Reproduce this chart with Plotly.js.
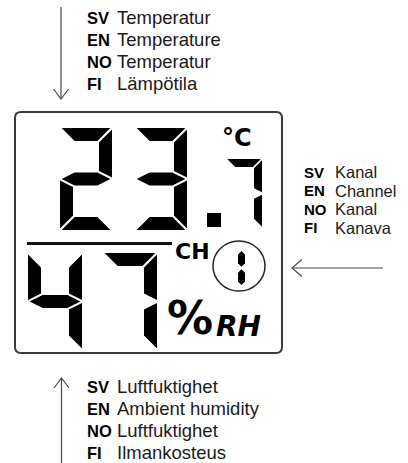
<!DOCTYPE html>
<html><head><meta charset="utf-8">
<script src="https://cdn.plot.ly/plotly-3.0.1.min.js"></script>
<style>html,body{margin:0;padding:0;background:#fff;overflow:hidden}</style>
</head><body><div id="chart" style="width:408px;height:463px"></div>
<script>
// ---- data ----
const temperatureDigits = ['2', '3'];
const temperatureDecimal = ['7'];
const humidityDigits = ['4', '7'];
const channelDigit = ['1'];
const temperatureUnit = '°C';
const channelLabel = 'CH';
const humidityUnit = '%';
const humiditySuffix = 'RH';
const langCodes = ['SV', 'EN', 'NO', 'FI'];
const temperatureNames = ['Temperatur', 'Temperature', 'Temperatur', 'Lämpötila'];
const channelNames = ['Kanal', 'Channel', 'Kanal', 'Kanava'];
const humidityNames = ['Luftfuktighet', 'Ambient humidity', 'Luftfuktighet', 'Ilmankosteus'];

// ---- seven-segment helper ----
const SEGMENTS = {'0':'abcdef','1':'bc','2':'abdeg','3':'abcdg','4':'bcfg','5':'acdfg','6':'acdefg','7':'abc','8':'abcdefg','9':'abcdfg'};
function segPolys(ch, x0, y0, w, h, t, g, hex) {
  const x1 = x0 + w, y1 = y0 + h, ym = y0 + h / 2, ht = t / 2;
  const vHex = (xr, ya, yb) => [[xr-ht,ya],[xr,ya+ht],[xr,yb-ht],[xr-ht,yb],[xr-t,yb-ht],[xr-t,ya+ht]];
  const P = {
    a: [[x0+g,y0],[x1-g,y0],[x1-t-g,y0+t],[x0+t+g,y0+t]],
    d: [[x0+t+g,y1-t],[x1-t-g,y1-t],[x1-g,y1],[x0+g,y1]],
    g: [[x0+g,ym],[x0+t+g,ym-ht],[x1-t-g,ym-ht],[x1-g,ym],[x1-t-g,ym+ht],[x0+t+g,ym+ht]],
    b: hex ? vHex(x1, y0, ym - g) : [[x1,y0+g],[x1,ym-g],[x1-t,ym-ht-g],[x1-t,y0+t+g]],
    c: hex ? vHex(x1, ym + g, y1) : [[x1,ym+g],[x1,y1-g],[x1-t,y1-t-g],[x1-t,ym+ht+g]],
    f: [[x0,y0+g],[x0+t,y0+t+g],[x0+t,ym-ht-g],[x0,ym-g]],
    e: [[x0,ym+g],[x0+t,ym+ht+g],[x0+t,y1-t-g],[x0,y1-g]]
  };
  return SEGMENTS[ch].split('').map(s => P[s]);
}
function polyPath(pts) { return 'M' + pts.map(p => p[0].toFixed(2) + ',' + p[1].toFixed(2)).join('L') + 'Z'; }

const shapes = [];
function addDigit(ch, x0, y0, w, h, t, g, hex) {
  segPolys(ch, x0, y0, w, h, t, g, hex).forEach(p => shapes.push({
    type: 'path', xref: 'x', yref: 'y', path: polyPath(p),
    fillcolor: '#000', line: {width: 0}
  }));
}
// temperature
temperatureDigits.forEach((d, i) => addDigit(d, 60 + i * 75, 128, 52, 102, 13, 1.6));
shapes.push({type:'rect', xref:'x', yref:'y', x0:207, x1:221, y0:213, y1:227, fillcolor:'#000', line:{width:0}});
temperatureDecimal.forEach((d, i) => addDigit(d, 226 + i * 40, 159, 36, 69, 8, 1.2));
// humidity
humidityDigits.forEach((d, i) => addDigit(d, 28 + i * 75, 253, 54, 97, 13, 1.6));
// channel
channelDigit.forEach((d, i) => addDigit(d, 231 + i * 15, 251, 14, 34, 7, 1.2, true));

// display frame
const bx0 = 15, bx1 = 282, by0 = 112, by1 = 353, r = 6;
shapes.push({type:'path', xref:'x', yref:'y', line:{color:'#3a3a3a', width:2},
  path: `M${bx0+r},${by0}L${bx1-r},${by0}Q${bx1},${by0} ${bx1},${by0+r}L${bx1},${by1-r}Q${bx1},${by1} ${bx1-r},${by1}L${bx0+r},${by1}Q${bx0},${by1} ${bx0},${by1-r}L${bx0},${by0+r}Q${bx0},${by0} ${bx0+r},${by0}Z`});
// divider line
shapes.push({type:'line', xref:'x', yref:'y', x0:27, x1:172, y0:243.5, y1:243.5, line:{color:'#111', width:3}});
// channel circle
shapes.push({type:'circle', xref:'x', yref:'y', x0:213, x1:265, y0:241, y1:291, line:{color:'#222', width:1.5}});

// arrows
const arrowLine = {color:'#4a4a4a', width:1.2};
shapes.push({type:'line', xref:'x', yref:'y', x0:61, x1:61, y0:7, y1:98.5, line:arrowLine});
shapes.push({type:'path', xref:'x', yref:'y', path:'M53.5,89L61,99L68.5,89', line:arrowLine});
shapes.push({type:'line', xref:'x', yref:'y', x0:61.5, x1:61.5, y0:378, y1:463, line:arrowLine});
shapes.push({type:'path', xref:'x', yref:'y', path:'M54,388L61.5,378L69,388', line:arrowLine});
shapes.push({type:'line', xref:'x', yref:'y', x0:292, x1:383, y0:268, y1:268, line:arrowLine});
shapes.push({type:'path', xref:'x', yref:'y', path:'M302,259.5L292,268L302,276.5', line:arrowLine});

// ---- annotations ----
const SANS = 'Liberation Sans, Arial, sans-serif';
const LCD = 'DejaVu Sans, sans-serif';
const annotations = [];
function txt(x, y, text, size, family, weight, style, color) {
  annotations.push({x, y, xref:'x', yref:'y', text, showarrow:false, xanchor:'left', yanchor:'middle',
    borderpad:0, font:{family, size, weight, style, color}});
}
function labelBlock(names, x0, xt, ys, codeSize, textSize) {
  names.forEach((n, i) => {
    txt(x0, ys[i], langCodes[i], codeSize, SANS, 'bold', 'normal', '#000');
    txt(xt, ys[i], n, textSize, SANS, 'normal', 'normal', '#1a1a1a');
  });
}
labelBlock(temperatureNames, 86, 116, [17.5, 39.5, 61.5, 83.5], 16.5, 18.5);
labelBlock(channelNames, 303, 334, [172, 190.5, 209, 227.5], 15, 16.5);
labelBlock(humidityNames, 86, 116, [386.5, 408.5, 430.5, 452.5], 16.5, 18.5);

txt(221, 138, temperatureUnit, 24, LCD, 'bold', 'normal', '#000');
txt(174, 251.5, channelLabel, 22, LCD, 'bold', 'normal', '#000');
txt(166, 318, humidityUnit, 46, LCD, 'bold', 'normal', '#000');
txt(215, 326, humiditySuffix, 28, LCD, 'bold', 'italic', '#000');

const layout = {
  width: 408, height: 463, margin: {l:0, r:0, t:0, b:0},
  paper_bgcolor: '#fff', plot_bgcolor: '#fff', showlegend: false,
  xaxis: {range: [0, 408], visible: false, fixedrange: true},
  yaxis: {range: [463, 0], visible: false, fixedrange: true},
  shapes, annotations
};
const frame = [{x: [0, 408], y: [0, 463], mode: 'markers', marker: {opacity: 0}, hoverinfo: 'skip'}];
Plotly.newPlot('chart', frame, layout, {staticPlot: true, displayModeBar: false});
</script></body></html>
